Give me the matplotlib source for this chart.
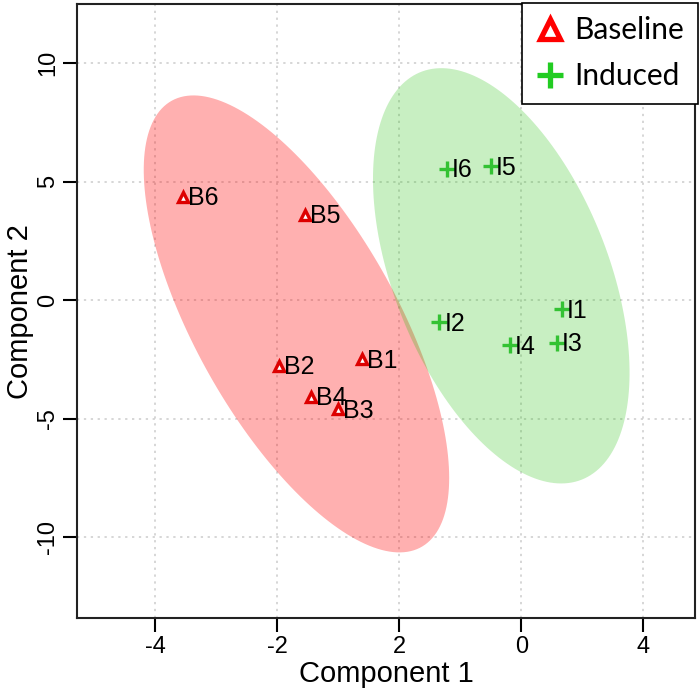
import numpy as np
import matplotlib
matplotlib.use("Agg")
import matplotlib.pyplot as plt
from matplotlib.patches import Polygon
from matplotlib.lines import Line2D

# ---- data ----
baseline_labels = ["B1", "B2", "B3", "B4", "B5", "B6"]
baseline_x = [-0.61, -1.97, -1.00, -1.44, -1.54, -3.54]
baseline_y = [-2.49, -2.78, -4.60, -4.09, 3.59, 4.35]

induced_labels = ["I1", "I2", "I3", "I4", "I5", "I6"]
induced_x = [2.67, 0.66, 2.59, 1.82, 1.51, 0.79]
induced_y = [-0.38, -0.93, -1.81, -1.90, 5.65, 5.53]

xtick_pos = [-4, -2, 0, 2, 4]
xtick_labels = ["-4", "-2", "2", "0", "4"]
ytick_pos = [-10, -5, 0, 5, 10]
ytick_labels = ["-10", "-5", "0", "5", "10"]

ellipse_level = 0.95

plt.rcParams['font.family'] = ['Liberation Sans', 'DejaVu Sans']

fig = plt.figure(figsize=(7.0, 6.93), dpi=100)
ax = fig.add_axes([0.110, 0.108, 0.883, 0.886])


def conf_ellipse(x, y, level, n=200):
    x = np.asarray(x); y = np.asarray(y)
    cov = np.cov(x, y)
    t = np.sqrt(-2 * np.log(1 - level))
    vals, vecs = np.linalg.eigh(cov)
    a = np.linspace(0, 2 * np.pi, n)
    circ = np.vstack([np.cos(a), np.sin(a)])
    pts = vecs @ (np.sqrt(vals)[:, None] * circ) * t
    return np.column_stack([pts[0] + x.mean(), pts[1] + y.mean()])


ax.add_patch(Polygon(conf_ellipse(baseline_x, baseline_y, ellipse_level),
                     closed=True, facecolor=(1.0, 0.0, 0.0), alpha=0.31,
                     edgecolor='none', zorder=1))
ax.add_patch(Polygon(conf_ellipse(induced_x, induced_y, ellipse_level),
                     closed=True, facecolor=(0.1, 0.75, 0.0), alpha=0.24,
                     edgecolor='none', zorder=1.1))

red = '#DD0000'
green = '#33C233'

ax.plot(baseline_x, baseline_y, linestyle='none', marker='^', markersize=7.5,
        markerfacecolor='white', markeredgecolor=red, markeredgewidth=2.4, zorder=3)
ax.plot(induced_x, induced_y, linestyle='none', marker='+', markersize=11,
        markeredgecolor=green, markeredgewidth=2.4, zorder=3)

for lab, x, y in zip(baseline_labels, baseline_x, baseline_y):
    ax.annotate(lab, (x, y), xytext=(3.5, -1), textcoords='offset points',
                ha='left', va='center', fontsize=18, color='black', zorder=4)
for lab, x, y in zip(induced_labels, induced_x, induced_y):
    ax.annotate(lab, (x, y), xytext=(3.5, -1), textcoords='offset points',
                ha='left', va='center', fontsize=18, color='black', zorder=4)

ax.set_xlim(-5.28, 4.85)
ax.set_ylim(-13.42, 12.49)

ax.set_xticks(xtick_pos)
ax.set_xticklabels(xtick_labels)
ax.set_yticks(ytick_pos)
ax.set_yticklabels(ytick_labels, rotation=90, va='center')
ax.tick_params(axis='both', direction='out', length=10, width=1.5,
               labelsize=17, pad=3)

ax.grid(True, linestyle=(0, (1.5, 3)), color='#CCCCCC', linewidth=1.1, zorder=0)
ax.set_axisbelow(True)

for s in ax.spines.values():
    s.set_linewidth(1.5)
    s.set_color('#222222')

ax.set_xlabel("Component 1", fontsize=21, labelpad=1)
ax.set_ylabel("Component 2", fontsize=21, labelpad=2)

handles = [
    Line2D([], [], linestyle='none', marker='^', markersize=14,
           markerfacecolor='white', markeredgecolor='#FF0000', markeredgewidth=3.8),
    Line2D([], [], linestyle='none', marker='+', markersize=19,
           markeredgecolor='#22CC22', markeredgewidth=3.8),
]
leg = ax.legend(handles, ["Baseline", "Induced"], loc='upper right',
                bbox_to_anchor=(1.004, 1.002), frameon=True, fancybox=False,
                edgecolor='black', framealpha=1, borderpad=0.45,
                handletextpad=0.3, handlelength=1.0, labelspacing=0.6,
                borderaxespad=0, prop={'family': 'Lato', 'size': 21.5})
leg.get_frame().set_linewidth(1.2)

fig.savefig("out.png", dpi=100)
